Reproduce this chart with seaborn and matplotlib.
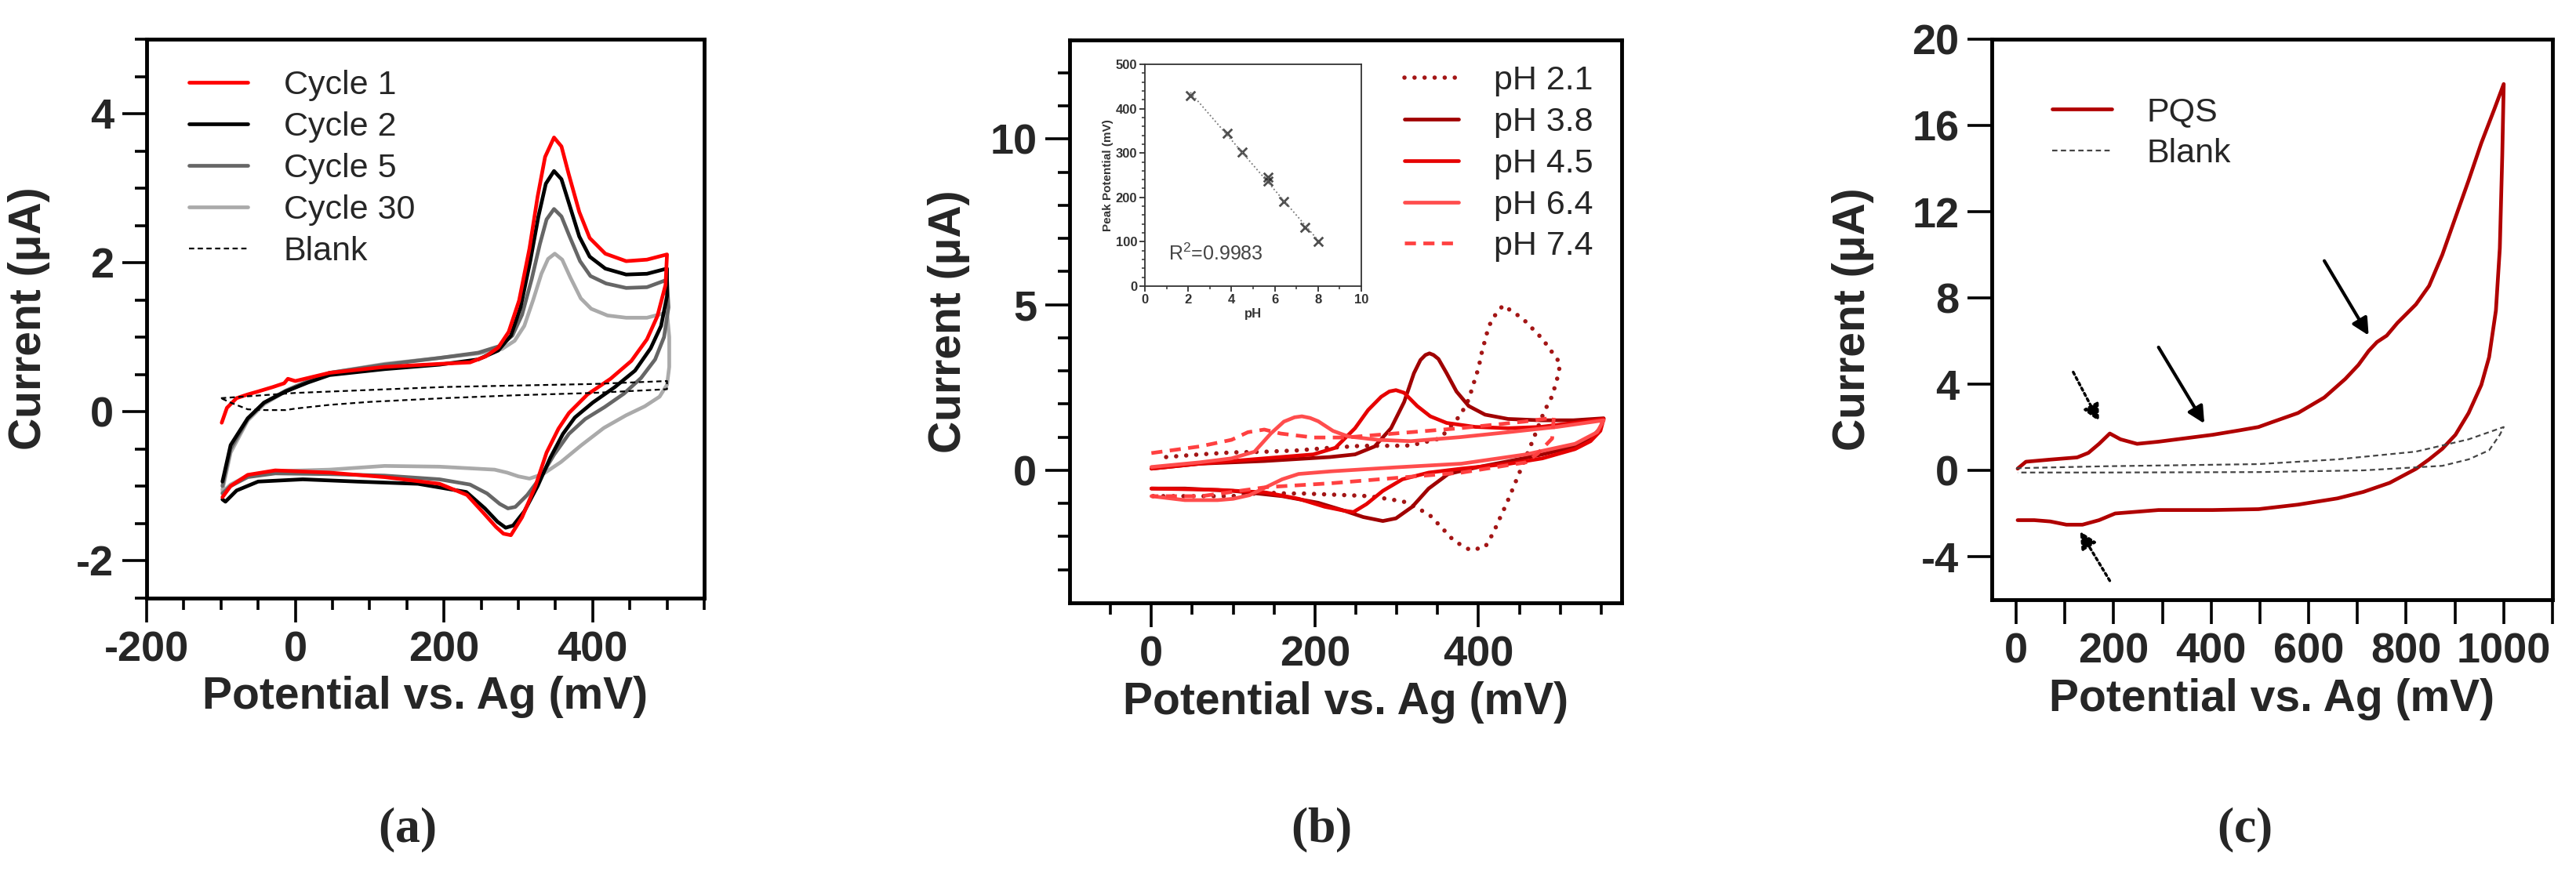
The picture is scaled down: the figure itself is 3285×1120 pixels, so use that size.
import numpy as np
import pandas as pd
import seaborn as sns
import matplotlib
matplotlib.use('Agg')
import matplotlib.pyplot as plt
from matplotlib.ticker import FixedLocator, MultipleLocator

# ---- panel (a): CV cycles, potential (mV) / current (uA)
c1_up_mv = [-99, -92, -79, -64, -50, -30, -15, -10, 0, 46, 120, 194, 235, 256, 273, 287, 301, 315, 326, 336, 348, 358, 368, 382, 396, 417, 445, 473, 500]
c1_up_ua = [-0.15, 0.05, 0.18, 0.23, 0.27, 0.33, 0.38, 0.44, 0.41, 0.52, 0.60, 0.64, 0.66, 0.74, 0.86, 1.07, 1.49, 2.19, 2.89, 3.42, 3.68, 3.56, 3.18, 2.68, 2.33, 2.12, 2.02, 2.04, 2.11]
c1_dn_mv = [498, 487, 473, 452, 424, 393, 368, 354, 338, 323, 305, 290, 280, 270, 253, 231, 194, 120, 46, -27, -64, -87, -98]
c1_dn_ua = [1.70, 1.28, 0.97, 0.68, 0.44, 0.23, -0.02, -0.23, -0.55, -1.00, -1.42, -1.66, -1.64, -1.55, -1.36, -1.12, -0.97, -0.88, -0.82, -0.79, -0.85, -1.00, -1.15]

c2_up_mv = [-98, -87, -64, -42, -13, 17, 46, 120, 194, 246, 273, 290, 303, 316, 327, 337, 348, 358, 368, 382, 396, 417, 445, 473, 500]
c2_up_ua = [-0.94, -0.45, -0.09, 0.12, 0.27, 0.39, 0.49, 0.57, 0.63, 0.70, 0.82, 1.02, 1.40, 2.02, 2.62, 3.06, 3.23, 3.12, 2.80, 2.35, 2.08, 1.92, 1.84, 1.85, 1.92]
c2_dn_mv = [500, 492, 478, 457, 430, 400, 376, 360, 343, 326, 308, 293, 283, 272, 255, 230, 165, 83, 10, -50, -79, -94, -98]
c2_dn_ua = [1.55, 1.15, 0.85, 0.55, 0.33, 0.12, -0.08, -0.30, -0.62, -1.00, -1.34, -1.53, -1.56, -1.48, -1.30, -1.08, -0.97, -0.94, -0.91, -0.94, -1.06, -1.21, -1.18]

c5_up_mv = [-98, -87, -64, -42, -13, 17, 46, 120, 194, 246, 275, 292, 305, 318, 329, 338, 348, 358, 369, 383, 397, 418, 445, 473, 500]
c5_up_ua = [-1.00, -0.50, -0.10, 0.12, 0.28, 0.41, 0.52, 0.63, 0.72, 0.79, 0.88, 1.02, 1.30, 1.78, 2.25, 2.58, 2.72, 2.62, 2.35, 2.02, 1.82, 1.72, 1.66, 1.67, 1.77]
c5_dn_mv = [502, 496, 484, 465, 442, 416, 390, 368, 348, 330, 312, 296, 286, 275, 258, 235, 194, 120, 46, -27, -64, -87, -98]
c5_dn_ua = [1.40, 1.00, 0.70, 0.45, 0.24, 0.06, -0.10, -0.30, -0.58, -0.88, -1.12, -1.28, -1.30, -1.24, -1.10, -0.98, -0.91, -0.86, -0.84, -0.83, -0.88, -1.00, -1.10]

c30_up_mv = [-98, -87, -64, -42, -13, 17, 46, 120, 194, 246, 278, 295, 308, 320, 331, 340, 349, 359, 370, 384, 398, 420, 445, 473, 500]
c30_up_ua = [-1.05, -0.55, -0.12, 0.10, 0.27, 0.40, 0.52, 0.64, 0.72, 0.78, 0.84, 0.95, 1.15, 1.50, 1.85, 2.05, 2.12, 2.04, 1.80, 1.52, 1.38, 1.29, 1.26, 1.26, 1.33]
c30_dn_mv = [503, 503, 500, 490, 470, 445, 415, 385, 357, 333, 315, 300, 285, 268, 194, 120, 46, -27, -64, -87, -98]
c30_dn_ua = [1.00, 0.60, 0.36, 0.20, 0.07, -0.05, -0.22, -0.45, -0.68, -0.84, -0.90, -0.87, -0.82, -0.78, -0.74, -0.73, -0.78, -0.80, -0.86, -0.98, -1.08]

blank_a_mv = [-100, 0, 100, 200, 300, 400, 500, 500, 400, 300, 200, 100, 46, 0, -13, -40, -64, -87, -100]
blank_a_ua = [0.18, 0.25, 0.29, 0.33, 0.35, 0.37, 0.41, 0.30, 0.25, 0.22, 0.18, 0.13, 0.09, 0.04, 0.02, 0.02, 0.03, 0.12, 0.18]

# ---- panel (b): pH series
ph21_mv = [18, 59, 98, 138, 178, 218, 257, 297, 317, 353, 378, 388, 394, 400, 404, 410, 416, 430, 454, 478, 498, 500, 496, 490, 480, 466, 450, 442, 434, 426, 418, 408, 390, 370, 355, 341, 325, 308, 288, 266, 248, 228, 206, 186, 166, 138, 98, 59, 19, 2]
ph21_ua = [0.40, 0.48, 0.54, 0.56, 0.60, 0.68, 0.74, 0.74, 0.75, 0.96, 1.67, 2.14, 2.62, 3.09, 3.56, 4.12, 4.55, 4.98, 4.58, 3.97, 3.29, 3.22, 2.75, 2.24, 1.76, 0.88, -0.07, -0.55, -1.02, -1.45, -1.89, -2.32, -2.41, -2.13, -1.73, -1.37, -1.13, -0.94, -0.86, -0.78, -0.76, -0.74, -0.72, -0.70, -0.70, -0.67, -0.78, -0.78, -0.78, -0.78]

ph38_mv = [0, 59, 138, 218, 249, 273, 293, 309, 321, 329, 335, 340, 345, 351, 361, 373, 388, 408, 436, 476, 516, 553, 549, 537, 518, 478, 438, 398, 363, 339, 319, 299, 283, 259, 236, 204, 160, 100, 41, 0]
ph38_ua = [0.05, 0.20, 0.28, 0.40, 0.48, 0.72, 1.27, 2.06, 2.93, 3.33, 3.48, 3.53, 3.48, 3.36, 2.93, 2.38, 1.94, 1.68, 1.55, 1.51, 1.51, 1.57, 1.27, 0.96, 0.72, 0.48, 0.28, 0.09, -0.11, -0.55, -1.10, -1.45, -1.53, -1.41, -1.22, -0.98, -0.78, -0.62, -0.55, -0.55]

ph45_mv = [0, 59, 138, 198, 225, 249, 265, 281, 291, 299, 309, 325, 341, 361, 396, 436, 476, 516, 553, 549, 537, 518, 478, 438, 379, 339, 307, 283, 263, 247, 236, 212, 180, 140, 81, 0]
ph45_ua = [0.05, 0.20, 0.36, 0.48, 0.68, 1.27, 1.82, 2.22, 2.38, 2.42, 2.34, 1.94, 1.63, 1.43, 1.31, 1.27, 1.31, 1.43, 1.55, 1.19, 0.88, 0.64, 0.36, 0.20, 0.05, -0.07, -0.27, -0.62, -1.02, -1.26, -1.22, -1.10, -0.86, -0.67, -0.59, -0.55]

ph64_mv = [0, 59, 98, 126, 146, 162, 175, 184, 194, 204, 222, 241, 277, 317, 377, 436, 496, 553, 545, 518, 458, 379, 299, 220, 180, 160, 140, 120, 100, 81, 41, 0]
ph64_ua = [0.10, 0.24, 0.36, 0.56, 1.11, 1.47, 1.60, 1.63, 1.58, 1.48, 1.19, 1.02, 0.92, 0.88, 1.00, 1.15, 1.31, 1.51, 1.15, 0.80, 0.48, 0.20, 0.09, -0.03, -0.11, -0.27, -0.51, -0.75, -0.86, -0.90, -0.90, -0.78]

ph74_mv = [0, 59, 98, 118, 138, 158, 198, 237, 297, 377, 456, 492, 490, 472, 458, 379, 299, 220, 140, 61, 0]
ph74_ua = [0.52, 0.72, 0.92, 1.15, 1.23, 1.11, 0.99, 0.99, 1.11, 1.27, 1.47, 1.59, 0.96, 0.50, 0.24, -0.07, -0.23, -0.39, -0.51, -0.78, -0.78]

# inset: peak potential vs pH
inset_ph = [2.1, 3.8, 4.5, 5.7, 5.7, 6.4, 7.4, 8.0]
inset_peak = [429, 344, 303, 245, 236, 191, 132, 100]

# ---- panel (c): PQS
pqs_mv = [3, 20, 70, 125, 148, 170, 192, 214, 248, 292, 403, 459, 497, 524, 578, 632, 675, 702, 723, 740, 760, 782, 820, 847, 874, 901, 928, 954, 981, 1000,
          997, 992, 984, 970, 954, 928, 901, 874, 847, 820, 766, 712, 659, 578, 497, 403, 292, 203, 170, 136, 103, 70, 37, 3]
pqs_ua = [0.08, 0.40, 0.50, 0.60, 0.81, 1.23, 1.71, 1.44, 1.23, 1.33, 1.65, 1.86, 2.01, 2.23, 2.66, 3.38, 4.24, 4.89, 5.54, 5.95, 6.25, 6.84, 7.70, 8.56, 10.00, 11.73, 13.45, 15.18, 16.77, 17.92,
          14.60, 10.30, 7.42, 5.25, 3.96, 2.66, 1.65, 1.00, 0.51, 0.07, -0.58, -1.00, -1.30, -1.59, -1.80, -1.84, -1.84, -2.00, -2.31, -2.52, -2.52, -2.37, -2.31, -2.31]
blank_c_mv = [0, 181, 403, 497, 659, 820, 928, 1000, 992, 970, 928, 874, 820, 712, 497, 181, 3]
blank_c_ua = [0.10, 0.19, 0.26, 0.29, 0.51, 0.87, 1.44, 2.01, 1.65, 0.93, 0.51, 0.21, 0.14, 0.00, -0.08, -0.10, -0.10]

# arrows (tail -> head), data coords
arrow_tails = [(117, 4.56), (292, 5.71), (632, 9.72), (192, -5.12)]
arrow_heads = [(170, 2.27), (386, 2.17), (723, 6.26), (131, -2.83)]
arrow_dotted = [True, False, False, True]

sns.set_style('ticks')
plt.rcParams['font.family'] = ['Liberation Sans', 'DejaVu Sans']
plt.rcParams['font.weight'] = 'bold'
plt.rcParams['axes.unicode_minus'] = False
plt.rcParams['mathtext.fontset'] = 'custom'
plt.rcParams['mathtext.rm'] = 'Liberation Serif'
plt.rcParams['mathtext.bf'] = 'Liberation Serif:bold'

fig = plt.figure(figsize=(32.85, 11.2), dpi=100)
W, H = 3285, 1120

def box(l, t, r, b):
    return [l / W, 1 - b / H, (r - l) / W, (b - t) / H]

ax_a = fig.add_axes(box(187, 50, 898, 762.5))
ax_b = fig.add_axes(box(1364, 50.5, 2068, 769))
ax_c = fig.add_axes(box(2540, 50, 3255, 765))

def cv(ax, x, y, **kw):
    sns.lineplot(x=x, y=y, ax=ax, sort=False, estimator=None, **kw)

def style(ax, minor_len=11):
    for s in ax.spines.values():
        s.set_linewidth(3.5)
        s.set_color('black')
    ax.tick_params(which='major', direction='out', length=22, width=2.6, labelsize=39, pad=8, color='black')
    ax.tick_params(which='minor', direction='out', length=minor_len, width=2.6, color='black')
    ax.tick_params(top=False, right=False, which='both')
    ax.set_xlabel('Potential vs. Ag (mV)', fontsize=41, fontweight='bold', labelpad=6)
    ax.set_ylabel('Current (μA)', fontsize=41, fontweight='bold')

leg_kw = dict(frameon=False, prop={'weight': 'normal', 'size': 31}, borderaxespad=0, borderpad=0,
              handletextpad=1.05, labelspacing=0.3)

# ---- (a)
cv(ax_a, c1_up_mv + c1_dn_mv, c1_up_ua + c1_dn_ua, color='#ff0000', lw=3.4, label='Cycle 1', zorder=5)
cv(ax_a, c2_up_mv + c2_dn_mv, c2_up_ua + c2_dn_ua, color='#000000', lw=3.4, label='Cycle 2', zorder=4)
cv(ax_a, c5_up_mv + c5_dn_mv, c5_up_ua + c5_dn_ua, color='#666666', lw=3.4, label='Cycle 5', zorder=3)
cv(ax_a, c30_up_mv + c30_dn_mv, c30_up_ua + c30_dn_ua, color='#aaaaaa', lw=3.4, label='Cycle 30', zorder=2)
cv(ax_a, blank_a_mv, blank_a_ua, color='#000000', lw=1.6, linestyle=(0, (3, 2)), label='Blank', zorder=6)
ax_a.set_xlim(-200, 550)
ax_a.set_ylim(-2.5, 5)
ax_a.xaxis.set_major_locator(FixedLocator([-200, 0, 200, 400]))
ax_a.xaxis.set_minor_locator(MultipleLocator(50))
ax_a.yaxis.set_major_locator(FixedLocator([-2, 0, 2, 4]))
ax_a.yaxis.set_minor_locator(MultipleLocator(0.5))
style(ax_a)
ax_a.yaxis.set_label_coords(-0.173, 0.5)
ax_a.legend(loc='upper left', bbox_to_anchor=(0.076, 0.945), handlelength=1.75, **leg_kw)

# ---- (b)
cv(ax_b, ph21_mv, ph21_ua, color='#a31515', lw=4, linestyle=(0, (0.01, 2.3)), dash_capstyle='round', label='pH 2.1')
cv(ax_b, ph38_mv, ph38_ua, color='#a00000', lw=3.4, label='pH 3.8')
cv(ax_b, ph45_mv, ph45_ua, color='#e60000', lw=3.4, label='pH 4.5')
cv(ax_b, ph64_mv, ph64_ua, color='#ff4d4d', lw=3.4, label='pH 6.4')
cv(ax_b, ph74_mv, ph74_ua, color='#ff4040', lw=3.4, linestyle=(0, (3, 2)), label='pH 7.4')
ax_b.set_xlim(-100, 575)
ax_b.set_ylim(-4, 13)
ax_b.xaxis.set_major_locator(FixedLocator([0, 200, 400]))
ax_b.xaxis.set_minor_locator(FixedLocator([-50, 50, 100, 150, 250, 300, 350, 450, 500, 550]))
ax_b.yaxis.set_major_locator(FixedLocator([0, 5, 10]))
ax_b.yaxis.set_minor_locator(FixedLocator([-3, -2, -1, 1, 2, 3, 4, 6, 7, 8, 9, 11, 12]))
style(ax_b)
ax_b.yaxis.set_label_coords(-0.18, 0.5)
ax_b.legend(loc='upper left', bbox_to_anchor=(0.607, 0.955), handlelength=1.6, **leg_kw)

# inset
ax_in = fig.add_axes(box(1460, 82, 1736, 365))
sns.regplot(x=inset_ph, y=inset_peak, ax=ax_in, ci=None, marker='x', color='#222222',
            scatter_kws={'s': 70, 'linewidths': 2}, line_kws={'color': '#777777', 'lw': 1.3, 'ls': ':'})
ax_in.set_xlim(0, 10)
ax_in.set_ylim(0, 500)
ax_in.xaxis.set_major_locator(MultipleLocator(2))
ax_in.xaxis.set_minor_locator(MultipleLocator(1))
ax_in.yaxis.set_major_locator(MultipleLocator(100))
ax_in.yaxis.set_minor_locator(MultipleLocator(20))
for s in ax_in.spines.values():
    s.set_linewidth(1.3)
    s.set_color('#333333')
ax_in.tick_params(which='major', length=5, width=1.3, labelsize=12, pad=2, colors='#333333')
ax_in.tick_params(which='minor', length=3, width=1.1, colors='#333333')
ax_in.set_xlabel('pH', fontsize=12, fontweight='bold', color='#333333', labelpad=2)
ax_in.set_ylabel('Peak Potential (mV)', fontsize=11, fontweight='bold', color='#333333', labelpad=2)
ax_in.text(1.1, 59, 'R$^{\\mathregular{2}}$=0.9983', fontsize=18, fontweight='normal', color='#444444')

# ---- (c)
cv(ax_c, pqs_mv, pqs_ua, color='#b00000', lw=3.4, label='PQS')
cv(ax_c, blank_c_mv, blank_c_ua, color='#444444', lw=1.6, linestyle=(0, (3, 2)), label='Blank')
ax_c.set_xlim(-50, 1100)
ax_c.set_ylim(-6, 20)
ax_c.xaxis.set_major_locator(FixedLocator([0, 200, 400, 600, 800, 1000]))
ax_c.xaxis.set_minor_locator(FixedLocator([100, 300, 500, 700, 900, 1100]))
ax_c.yaxis.set_major_locator(MultipleLocator(4))
style(ax_c, minor_len=22)
ax_c.yaxis.set_label_coords(-0.21, 0.5)
ax_c.legend(loc='upper left', bbox_to_anchor=(0.108, 0.898), handlelength=1.75, **leg_kw)
for (tx, ty), (hx, hy), dotted in zip(arrow_tails, arrow_heads, arrow_dotted):
    ax_c.annotate('', xy=(hx, hy), xytext=(tx, ty),
                  arrowprops=dict(arrowstyle='-|>', color='black', lw=3 if not dotted else 2.5,
                                  linestyle=(0, (1, 1.2)) if dotted else '-', mutation_scale=32,
                                  shrinkA=0, shrinkB=0))

for x, lab in [(519, 'a'), (1685, 'b'), (2862, 'c')]:
    fig.text(x / W, 1 - 1059 / H, '$\\mathrm{(}\\mathbf{%s}\\mathrm{)}$' % lab, fontsize=46,
             ha='center', va='center')

fig.savefig('out.png', dpi=100)
